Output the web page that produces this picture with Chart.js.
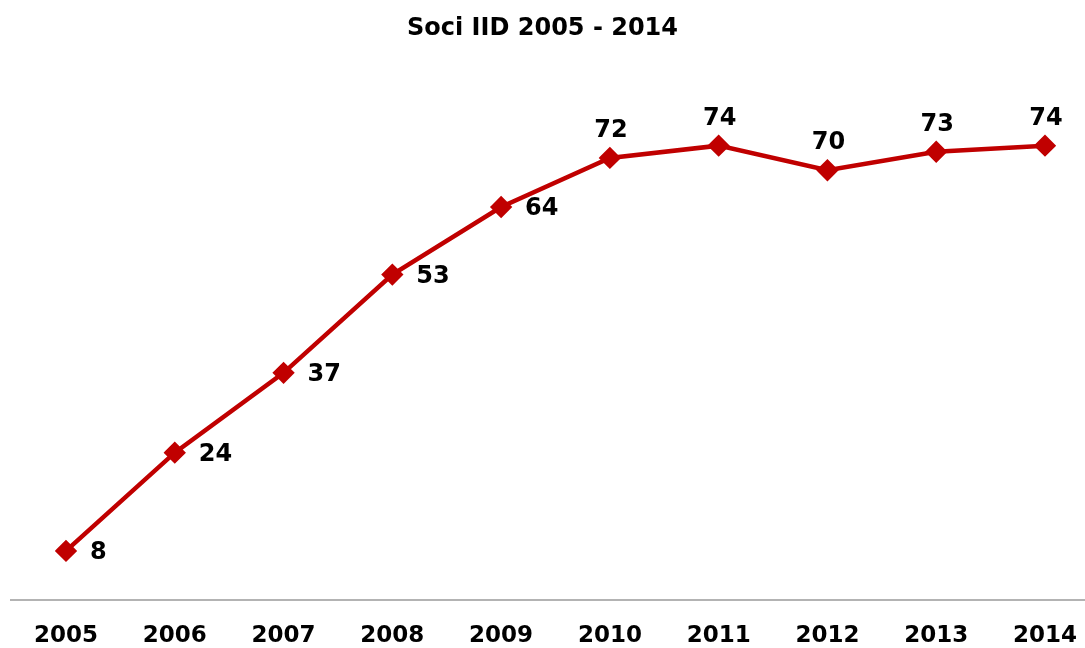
<!DOCTYPE html>
<html>
<head>
<meta charset="utf-8">
<script src="https://cdn.jsdelivr.net/npm/chart.js@4.4.1/dist/chart.umd.min.js"></script>
<style>
  html, body { margin: 0; padding: 0; background: #fff; }
  #wrap { width: 1085px; height: 648px; }
</style>
</head>
<body>
<div id="wrap"><canvas id="grafico"></canvas></div>
<script>
const anni = ["2005", "2006", "2007", "2008", "2009", "2010", "2011", "2012", "2013", "2014"];
const soci = [8, 24, 37, 53, 64, 72, 74, 70, 73, 74];
// etichette a destra per i primi anni, sopra per gli altri
const posizioneEtichetta = ["right", "right", "right", "right", "right", "top", "top", "top", "top", "top"];

const FONT = "'DejaVu Sans', Tahoma, sans-serif";

const etichettePlugin = {
  id: "etichette",
  afterDatasetsDraw(chart) {
    const ctx = chart.ctx;
    const meta = chart.getDatasetMeta(0);
    ctx.save();
    ctx.font = "bold 24px " + FONT;
    ctx.fillStyle = "#000";
    ctx.textBaseline = "middle";
    meta.data.forEach((pt, i) => {
      if (posizioneEtichetta[i] === "right") {
        ctx.textAlign = "left";
        ctx.fillText(soci[i], pt.x + 24, pt.y + 2);
      } else {
        ctx.textAlign = "center";
        ctx.fillText(soci[i], pt.x + 1, pt.y - 27);
      }
    });
    ctx.restore();
  }
};

const assePlugin = {
  id: "asse",
  beforeDatasetsDraw(chart) {
    const ctx = chart.ctx;
    const y = chart.scales.y.getPixelForValue(0);
    ctx.save();
    ctx.strokeStyle = "#9a9a9a";
    ctx.lineWidth = 1.5;
    ctx.beginPath();
    ctx.moveTo(10, y);
    ctx.lineTo(1085, y);
    ctx.stroke();
    ctx.restore();
  }
};

new Chart(document.getElementById("grafico"), {
  type: "line",
  data: {
    labels: anni,
    datasets: [{
      label: "Soci",
      data: soci,
      borderColor: "#C00000",
      backgroundColor: "#C00000",
      borderWidth: 4.5,
      pointStyle: "rectRot",
      pointRadius: 8,
      pointHoverRadius: 8,
      tension: 0
    }]
  },
  options: {
    responsive: true,
    maintainAspectRatio: false,
    animation: false,
    layout: { padding: { left: 10, right: 10, top: 0, bottom: 0 } },
    plugins: {
      legend: { display: false },
      tooltip: { enabled: false },
      title: {
        display: true,
        text: "Soci IID 2005 - 2014",
        color: "#000",
        font: { family: FONT, size: 24, weight: "bold" },
        padding: { top: 14, bottom: 66 }
      }
    },
    scales: {
      x: {
        offset: false,
        grid: { display: false, drawTicks: false },
        border: { display: false },
        ticks: {
          color: "#000",
          font: { family: FONT, size: 23, weight: "bold" },
          padding: 22,
          maxRotation: 0,
          autoSkip: false
        },
        afterFit(scale) {
          scale.height = 48;
          scale.paddingLeft = 66;
          scale.paddingRight = 40;
        }
      },
      y: {
        display: false,
        min: 0,
        max: 80
      }
    }
  },
  plugins: [etichettePlugin, assePlugin]
});
</script>
</body>
</html>
